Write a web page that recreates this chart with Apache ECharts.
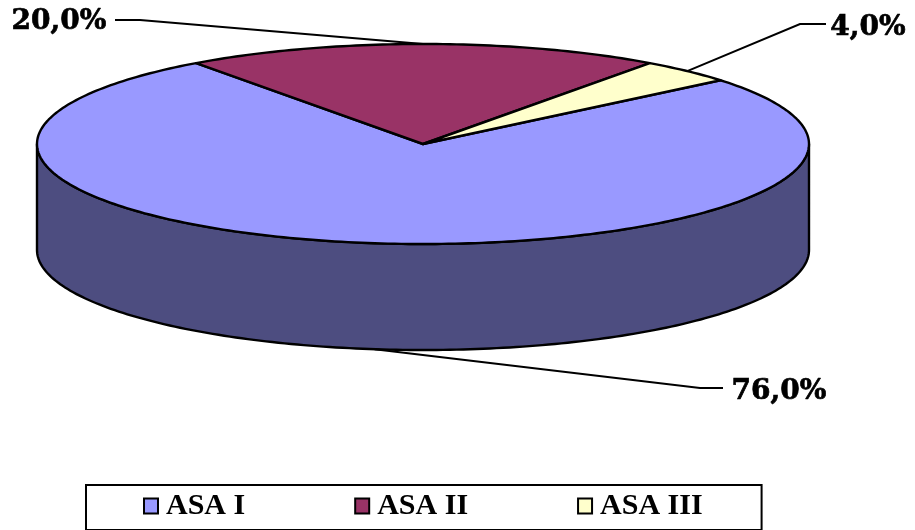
<!DOCTYPE html>
<html>
<head>
<meta charset="utf-8">
<style>html,body{margin:0;padding:0;background:#fff}#chart{width:915px;height:530px}</style>
<script src="https://cdn.jsdelivr.net/npm/echarts@6/dist/echarts.min.js"></script>
</head>
<body>
<div id="chart"></div>
<script>
// ASA physical status classes and their share of patients (%)
const categories = ['ASA I', 'ASA II', 'ASA III'];
const shares = [76, 20, 4];
const sliceColors = ['#9999ff', '#993366', '#ffffcc'];
const wallColor = '#4d4d80';

// Disc geometry: tilted ellipse with a visible wall below it
const disc = { cx: 423, cy: 144, rx: 386, ry: 100, depth: 106, startDeg: 39.6 };
// Callout layout per slice: elbow of the leader, its end and the text centre
const callouts = [
  { elbow: [700, 388], end: [723, 388], text: [779, 392], rim: 'wall' },
  { elbow: [140, 20], end: [115, 20], text: [59, 22], rim: 'top' },
  { elbow: [800, 24], end: [826, 24], text: [868, 28], rim: 'top' }
];

const total = shares.reduce((a, b) => a + b, 0);
const toAngle = v => v / total * 360;
const rimPoint = (deg, dy) => {
  const r = deg * Math.PI / 180;
  return [disc.cx + disc.rx * Math.cos(r), disc.cy + dy - disc.ry * Math.sin(r)];
};
const arc = (from, to, dy) => {
  const pts = [];
  const n = Math.max(2, Math.ceil(Math.abs(from - to)));
  for (let i = 0; i <= n; i++) pts.push(rimPoint(from + (to - from) * i / n, dy));
  return pts;
};
const percentText = v => v.toFixed(1).replace('.', ',') + '%';

function renderSlice(params, api) {
  const idx = params.seriesIndex;
  const value = api.value(0);
  const before = shares.slice(0, idx).reduce((a, b) => a + b, 0);
  const from = disc.startDeg - toAngle(before);
  const to = from - toAngle(value);
  const mid = (from + to) / 2;
  const color = sliceColors[idx];
  const outline = { stroke: '#000', lineWidth: 2.4, lineJoin: 'round' };
  const children = [];

  // Front-facing wall: the part of the slice between -180 and 0 degrees
  const wallFrom = Math.min(from, 0);
  const wallTo = Math.max(to, -180);
  if (wallFrom > wallTo) {
    children.push({
      type: 'polygon',
      shape: { points: arc(wallFrom, wallTo, 0).concat(arc(wallTo, wallFrom, disc.depth)) },
      style: Object.assign({ fill: wallColor }, outline)
    });
  }
  // Top face
  children.push({
    type: 'polygon',
    shape: { points: [[disc.cx, disc.cy]].concat(arc(from, to, 0)) },
    style: Object.assign({ fill: color }, outline)
  });
  // Leader line and value text
  const c = callouts[idx];
  children.push({
    type: 'polyline',
    shape: { points: [rimPoint(mid, c.rim === 'wall' ? disc.depth : 0), c.elbow, c.end] },
    style: { fill: null, stroke: '#000', lineWidth: 2 }
  });
  children.push({
    type: 'text',
    x: c.text[0], y: c.text[1],
    style: {
      text: percentText(value),
      font: 'bold 28px "DejaVu Serif"',
      fill: '#000', stroke: '#000', lineWidth: 0.7,
      align: 'center', verticalAlign: 'middle'
    }
  });
  return { type: 'group', children };
}

const chart = echarts.init(document.getElementById('chart'), null, { renderer: 'canvas' });
chart.setOption({
  animation: false,
  backgroundColor: '#fff',
  legend: {
    show: true,
    left: 86,
    top: 485,
    orient: 'horizontal',
    data: categories,
    icon: 'rect',
    itemWidth: 14,
    itemHeight: 15,
    itemGap: 109,
    padding: [6, 59, 9, 57],
    borderColor: '#000',
    borderWidth: 2,
    itemStyle: { borderColor: '#000', borderWidth: 2 },
    textStyle: {
      fontFamily: '"Liberation Serif"',
      fontWeight: 'bold',
      fontSize: 30,
      color: '#000',
      padding: [0, 0, 0, 3]
    },
    selectedMode: false
  },
  series: categories.map((name, i) => ({
    type: 'custom',
    name,
    coordinateSystem: 'none',
    silent: true,
    itemStyle: { color: sliceColors[i] },
    renderItem: renderSlice,
    data: [[shares[i]]]
  }))
});
</script>
</body>
</html>
